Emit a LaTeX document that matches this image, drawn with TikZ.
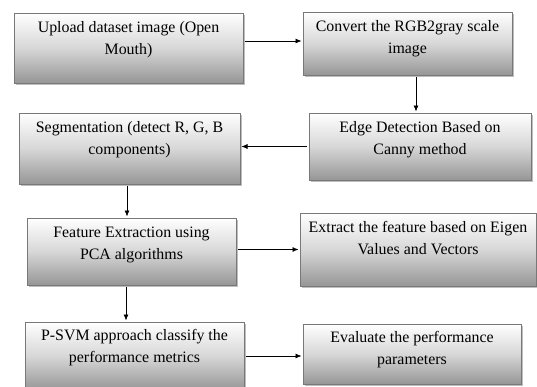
\documentclass[tikz,border=0pt]{standalone}
\usepackage{fontspec}
\setmainfont{Liberation Serif}
\usetikzlibrary{shadows,arrows.meta,calc}
\begin{document}
\begin{tikzpicture}[x=1pt,y=-1pt,
  box/.style={draw={rgb,255:red,120;green,120;blue,120}, line width=0.8pt,
    top color=white, bottom color={rgb,255:red,150;green,150;blue,150},
    middle color={rgb,255:red,215;green,215;blue,215},
    drop shadow={shadow xshift=2pt, shadow yshift=-2pt, fill={rgb,255:red,190;green,190;blue,190}, opacity=1},
    inner sep=0pt, outer sep=0pt},
  txt/.style={anchor=north, align=center, inner sep=0pt, yshift=-8.5pt,
    font=\fontsize{15.9}{22}\selectfont},
  arr/.style={-{Latex[length=6pt,width=5pt]}, line width=0.7pt, shorten <=2pt, shorten >=1.5pt}]
\useasboundingbox (0,0) rectangle (537,386);
\clip (0,0) rectangle (537,386);

\node[box, minimum width=229pt, minimum height=70pt] (b1) at (128.5,48) {};
\node[txt] (t1) at (b1.north) {Upload dataset image (Open\\Mouth)};

\node[box, minimum width=209pt, minimum height=63pt] (b2) at (407.5,43.5) {};
\node[txt, yshift=0.5pt] (t2) at (b2.north) {Convert the RGB2gray scale\\image};

\node[box, minimum width=222pt, minimum height=67pt] (b3) at (420,146.5) {};
\node[txt] (t3) at (b3.north) {Edge Detection Based on\\Canny method};

\node[box, minimum width=221pt, minimum height=71pt] (b4) at (129.5,148.5) {};
\node[txt] (t4) at (b4.north) {Segmentation (detect R, G, B\\components)};

\node[box, minimum width=209pt, minimum height=67pt] (b5) at (131.5,251.5) {};
\node[txt] (t5) at (b5.north) {Feature Extraction using\\PCA algorithms};

\node[box, minimum width=236pt, minimum height=73pt] (b6) at (418,249.5) {};
\node[txt] (t6) at (b6.north) {Extract the feature based on Eigen\\Values and Vectors};

\node[box, minimum width=219pt, minimum height=68pt] (b7) at (134.5,356) {};
\node[txt, yshift=1.5pt] (t7) at (b7.north) {P-SVM approach classify the\\performance metrics};

\node[box, minimum width=218pt, minimum height=60pt] (b8) at (412,354) {};
\node[txt, yshift=1.5pt] (t8) at (b8.north) {Evaluate the performance\\parameters};

\draw[arr] ([yshift=7pt]b1.east) -- ([yshift=7pt]b1.east -| b2.west);
\draw[arr] ([xshift=8.5pt]b2.south) -- ([xshift=8.5pt]b2.south |- b3.north);
\draw[arr] (b3.west) -- (b3.west -| b4.east);
\draw[arr] ([xshift=-2.5pt]b4.south) -- ([xshift=-2.5pt]b4.south |- b5.north);
\draw[arr] ([yshift=2pt]b5.east) -- ([yshift=2pt]b5.east -| b6.west);
\draw[arr] ([xshift=-5.5pt]b5.south) -- ([xshift=-5.5pt]b5.south |- b7.north);
\draw[arr] (b7.east) -- (b7.east -| b8.west);
\end{tikzpicture}
\end{document}
